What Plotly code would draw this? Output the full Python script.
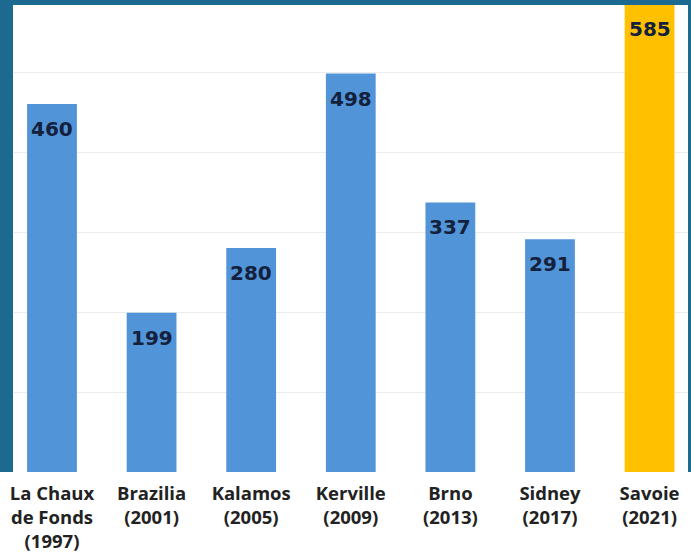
import plotly.graph_objects as go

categories = ["La Chaux<br>de Fonds<br>(1997)", "Brazilia<br>(2001)", "Kalamos<br>(2005)",
              "Kerville<br>(2009)", "Brno<br>(2013)", "Sidney<br>(2017)", "Savoie<br>(2021)"]
values = [460, 199, 280, 498, 337, 291, 585]
bar_colors = ["#5294d8"] * 6 + ["#ffc000"]

W, H = 691, 553
frame = "#1c6a8f"

fig = go.Figure()
fig.add_trace(go.Bar(
    x=categories, y=values,
    marker=dict(color=bar_colors, line=dict(width=0)),
    hoverinfo="skip",
))

for c, v in zip(categories, values):
    fig.add_annotation(x=c, y=v, yshift=-25, text=str(v), showarrow=False,
                       font=dict(family="DejaVu Sans", size=20, color="#14213d", weight=700))

plot_h = 472
fig.update_layout(
    width=W, height=H,
    margin=dict(l=0, r=0, t=0, b=H - plot_h, autoexpand=False),
    paper_bgcolor="white", plot_bgcolor="white",
    bargap=0.5,
    showlegend=False,
    xaxis=dict(range=[-0.522, 6.416], showgrid=False, zeroline=False, showline=False,
               ticks="", ticklabelstandoff=8, automargin=False,
               tickfont=dict(family="Open Sans", size=18.5, color="#222222", weight=700)),
    yaxis=dict(range=[0, 590], dtick=100, showgrid=True, gridcolor="#ececec", gridwidth=1,
               zeroline=False, showticklabels=False, ticks="", automargin=False),
    shapes=[
        dict(type="rect", xref="paper", yref="paper", x0=0, x1=13 / W, y0=0, y1=1,
             fillcolor=frame, line=dict(width=0), layer="above"),
        dict(type="rect", xref="paper", yref="paper", x0=0, x1=1, y0=1 - 5 / plot_h, y1=1,
             fillcolor=frame, line=dict(width=0), layer="above"),
        dict(type="rect", xref="paper", yref="paper", x0=688 / W, x1=1, y0=0, y1=1,
             fillcolor=frame, line=dict(width=0), layer="above"),
    ],
)

fig.write_html("out.html", config={"displayModeBar": False},
               post_script="document.body.style.margin='0';")
